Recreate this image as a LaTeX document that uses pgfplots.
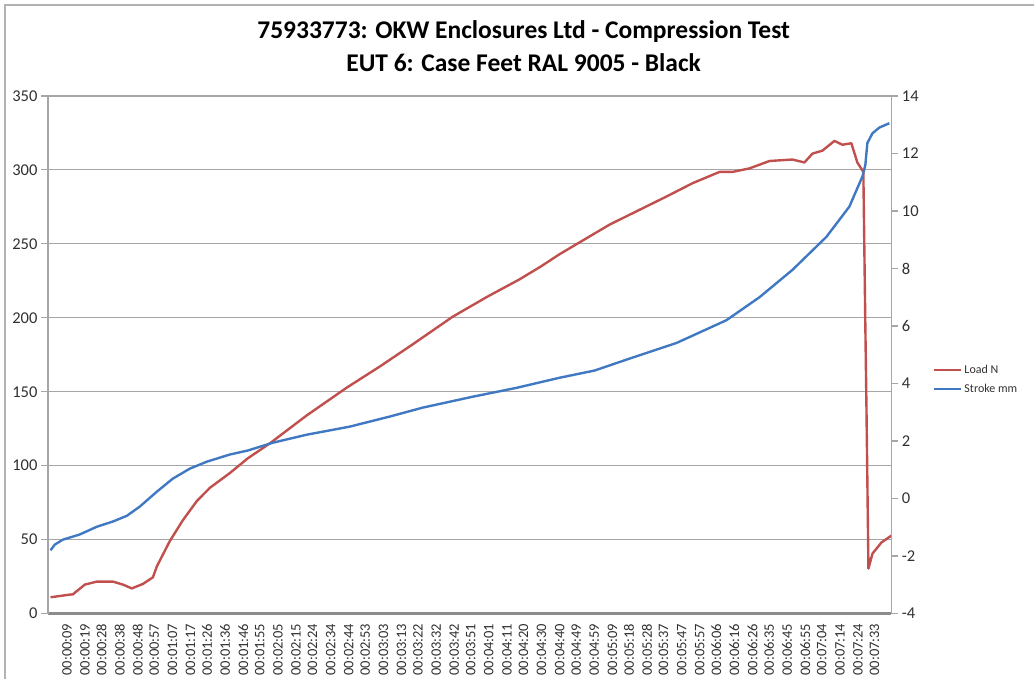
\documentclass[border=0pt]{standalone}
\usepackage{pgfplots}
\pgfplotsset{compat=1.18}
\usepackage{fontspec}
\setmainfont{Carlito}
\definecolor{loadred}{HTML}{C0504D}
\definecolor{strokeblue}{HTML}{4079C2}
\definecolor{axgray}{HTML}{8C8C8C}
\definecolor{gridgray}{HTML}{A6A6A6}
\definecolor{labgray}{HTML}{303030}
\begin{document}
\begin{tikzpicture}[x=1pt,y=1pt]
\path (0,0) rectangle (1035,679);
\draw[gray!60, line width=1.5pt] (5,0) -- (5,674) -- (1035,674);
\node[font=\fontsize{25.5}{30}\selectfont\bfseries] at (524,647) {75933773: OKW Enclosures Ltd - Compression Test};
\node[font=\fontsize{25.5}{30}\selectfont\bfseries] at (524,616) {EUT 6: Case Feet RAL 9005 - Black};
\begin{axis}[
  at={(48pt,65pt)}, anchor=south west, scale only axis,
  width=844pt, height=518pt,
  xmin=-1.4, xmax=462.3, ymin=0, ymax=350,
  axis y line*=left, axis x line*=bottom,
  x axis line style={-, draw=axgray, line width=3.5pt},
  y axis line style={-, draw=gridgray, line width=1.2pt},
  ytick={0,50,...,350}, yticklabels={0,50,100,150,200,250,300,350},
  ymajorgrids=true, xmajorgrids=false,
  major grid style={draw=gridgray, line width=1.2pt},
  tick align=outside, major tick length=7pt,
  y tick style={gridgray, line width=1.2pt},
  x tick style={draw opacity=0},
  yticklabel style={font=\fontsize{16.5}{18}\selectfont, text=labgray},
  xtick={9,19,28,38,48,57,67,77,86,96,106,115,125,135,144,154,164,173,183,193,202,212,222,231,241,251,260,270,280,289,299,309,318,328,337,347,357,366,376,386,395,405,415,424,434,444,453},
  xticklabels={00:00:09,00:00:19,00:00:28,00:00:38,00:00:48,00:00:57,00:01:07,00:01:17,00:01:26,00:01:36,00:01:46,00:01:55,00:02:05,00:02:15,00:02:24,00:02:34,00:02:44,00:02:53,00:03:03,00:03:13,00:03:22,00:03:32,00:03:42,00:03:51,00:04:01,00:04:11,00:04:20,00:04:30,00:04:40,00:04:49,00:04:59,00:05:09,00:05:18,00:05:28,00:05:37,00:05:47,00:05:57,00:06:06,00:06:16,00:06:26,00:06:35,00:06:45,00:06:55,00:07:04,00:07:14,00:07:24,00:07:33},
  xticklabel style={rotate=90, anchor=east, font=\fontsize{14.5}{16}\selectfont, text=labgray, inner sep=3pt},
]
\addplot[loadred, line width=2.4pt, line join=round] coordinates {
(0,11) (10.6,12.8) (12.3,13) (18.9,19.6) (25.5,21.6) (34.3,21.6) (39.8,19.6) (44.7,17)
(50.8,20) (56.3,24.5) (58.5,32) (65.6,49) (72.7,63) (80.4,76) (87.6,85) (98.6,95)
(108.5,105) (120.5,115) (140.9,134) (162.8,152.7) (181.0,167) (199.1,182) (221.1,200.7)
(239.8,214) (257.9,226) (270.0,235) (279.9,243) (290.9,251) (307.4,263) (325.5,274) (338.7,282)
(353.0,291) (367.8,298.6) (374.9,298.6) (384.3,301) (395.3,306) (407.9,307) (414.5,305)
(418.9,311) (424.4,313) (431.0,319.6) (435.4,317) (440.3,318) (443.6,305) (446.9,298.6)
(448.0,194) (448.6,140) (449.7,30.4) (451.9,40.5) (456.8,48) (462.3,52.7)
};
\end{axis}
\begin{axis}[
  at={(48pt,65pt)}, anchor=south west, scale only axis,
  width=844pt, height=518pt,
  xmin=-1.4, xmax=462.3, ymin=-4, ymax=14,
  axis y line*=right, axis x line=none,
  y axis line style={-, draw=gridgray, line width=1.2pt},
  ytick={-4,-2,...,14}, yticklabels={-4,-2,0,2,4,6,8,10,12,14},
  tick align=outside, major tick length=7pt,
  y tick style={gridgray, line width=1.2pt},
  yticklabel style={font=\fontsize{16.5}{18}\selectfont, text=labgray},
  legend style={at={(1.045,0.452)}, anchor=west, draw=none, fill=none,
    font=\fontsize{12}{14}\selectfont, row sep=6pt, text=labgray},
  legend cell align=left,
  legend image code/.code={\draw[#1, line width=2pt] (0pt,0pt) -- (28pt,0pt);},
]
\addlegendimage{loadred}
\addlegendentry{Load N}
\addplot[strokeblue, line width=2.4pt, line join=round] coordinates {
(0,-1.8) (2.4,-1.6) (6.8,-1.43) (16.1,-1.25) (25.5,-0.98) (34.3,-0.8) (42.0,-0.6)
(49.1,-0.28) (58.5,0.24) (67.2,0.69) (76.6,1.04) (85.9,1.28) (98.6,1.53) (108.5,1.67)
(122.2,1.94) (140.9,2.22) (164.5,2.5) (186.5,2.85) (204.6,3.16) (232.1,3.54) (256.3,3.85)
(279.9,4.2) (299.1,4.45) (316.7,4.83) (344.2,5.41) (371.6,6.2) (389.8,7.0) (407.9,7.95)
(426.6,9.1) (439.2,10.15) (446.4,11.2) (448.0,11.6) (449.1,12.36) (451.9,12.7)
(455.7,12.9) (461.2,13.05)
};
\addlegendentry{Stroke mm}
\end{axis}
\end{tikzpicture}
\end{document}
